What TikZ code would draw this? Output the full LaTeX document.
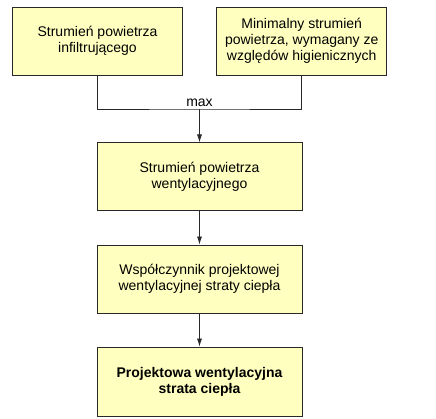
\documentclass[tikz,border=0pt]{standalone}
\usepackage{fontspec}
\setmainfont{Liberation Sans}
\usepackage{xcolor}
\usetikzlibrary{arrows.meta}
\definecolor{boxfill}{RGB}{255,255,192}
\definecolor{boxline}{RGB}{40,40,40}

\begin{document}
\begin{tikzpicture}[x=1pt,y=-1pt,
  blok/.style={draw=boxline, line width=0.8pt, fill=boxfill, inner sep=0pt,
    align=center, font=\fontsize{14}{16}\selectfont},
  krok/.style={line width=0.7pt, draw=boxline, -{Latex[length=8pt,width=5pt]}}]
\useasboundingbox (0,0) rectangle (436,419);

\node [blok, minimum width=170, minimum height=68] (infil) at (97.5,41.2) {Strumień powietrza\\infiltrującego};
\node [blok, minimum width=170, minimum height=68] (higien) at (301.7,41.2) {Minimalny strumień\\powietrza, wymagany ze\\względów higienicznych};

\node [blok, minimum width=205, minimum height=68] (went) at (199.5,176.9) {Strumień powietrza\\wentylacyjnego};
\node [blok, minimum width=205, minimum height=68] (wspol) at (199.5,279) {Współczynnik projektowej\\wentylacyjnej straty ciepła};
\node [blok, minimum width=205, minimum height=69] (strata) at (199.5,381.5) {\bfseries Projektowa wentylacyjna\\\bfseries strata ciepła};

\coordinate (join) at (199.5,109);
\draw [line width=0.7pt, draw=boxline] (infil.south) |- (join) -| (higien.south);
\node [font=\fontsize{14}{16}\selectfont, anchor=south, inner sep=2pt] (max) at (join) {max};

\draw [krok] (join) -- (went.north);
\draw [krok] (went.south) -- (wspol.north);
\draw [krok] (wspol.south) -- (strata.north);
\end{tikzpicture}
\end{document}
